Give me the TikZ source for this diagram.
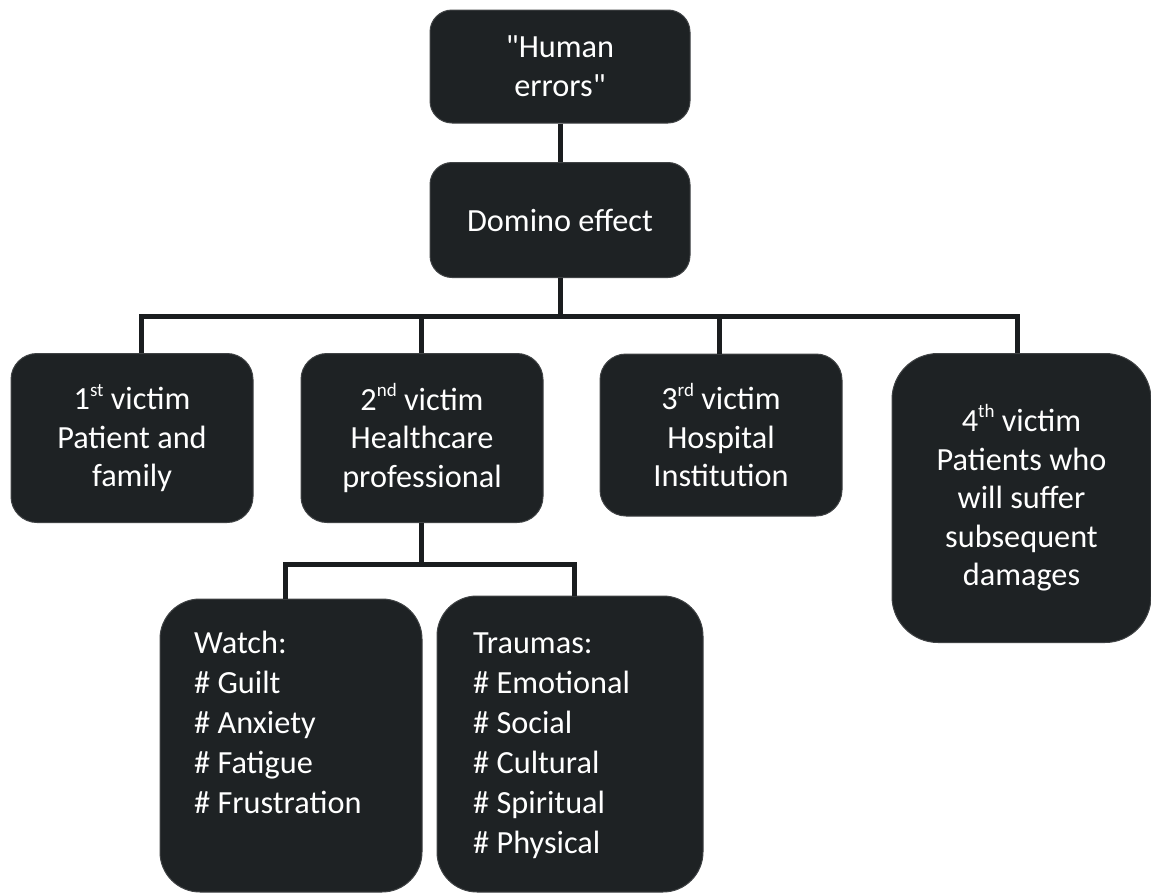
\documentclass[tikz,border=0pt]{standalone}
\usepackage{fontspec}
\setmainfont{Carlito}
\usetikzlibrary{calc}
\definecolor{boxc}{HTML}{1E2224}
\definecolor{linec}{HTML}{1A1D1F}
\newcommand{\supx}[1]{\raisebox{0.42em}{\fontsize{19}{19}\selectfont #1}}
\tikzset{
  box/.style={draw=boxc!85!white, line width=1pt, fill=boxc, text=white, align=center,
    font=\fontsize{32.3}{38.6}\selectfont, inner sep=0pt, rounded corners=#1},
  box/.default=22pt,
  listtext/.style={text=white, align=left, anchor=north west, inner sep=0pt,
    font=\fontsize{32.3}{40}\selectfont},
  conn/.style={draw=linec, line width=5pt, line join=miter}
}
\begin{document}
\begin{tikzpicture}[x=1pt,y=-1pt]
\useasboundingbox (0,0) rectangle (1151,894);
% top boxes
\node[box, minimum width=260pt, minimum height=113pt] (he) at (560,66.5) {\textquotedbl Human\\errors\textquotedbl};
\node[box, minimum width=260pt, minimum height=115pt] (dom) at (560,220) {Domino effect};
% victims
\node[box=26pt, minimum width=242pt, minimum height=169pt] (v1) at (132,438) {1\supx{st} victim\\Patient and\\family};
\node[box=26pt, minimum width=242pt, minimum height=169pt] (v2) at (422,438) {2\supx{nd} victim\\Healthcare\\professional};
\node[box=26pt, minimum width=242pt, minimum height=162pt] (v3) at (721,435) {3\supx{rd} victim\\Hospital\\Institution};
\node[box=46pt, minimum width=259pt, minimum height=289pt] (v4) at (1021.5,498) {4\supx{th} victim\\Patients who\\will suffer\\subsequent\\damages};
% lower boxes
\node[box=40pt, minimum width=262pt, minimum height=293pt] (watch) at (291,745.5) {};
\node[box=40pt, minimum width=266pt, minimum height=296pt] (traumas) at (570,744) {};
\node[listtext] (watcht) at (194,628) {\rule{0pt}{25pt}Watch:\\\# Guilt\\\# Anxiety\\\# Fatigue\\\# Frustration};
\node[listtext] (traumast) at (473,628) {\rule{0pt}{25pt}Traumas:\\\# Emotional\\\# Social\\\# Cultural\\\# Spiritual\\\# Physical};
% bus coordinates
\coordinate (b1) at (141,316);
\coordinate (b2) at (421,316);
\coordinate (b3) at (719.5,316);
\coordinate (b4) at (1017,316);
\coordinate (c1) at (285,564.5);
\coordinate (c2) at (574,564.5);
% connectors
\draw[conn] (he.south) -- (dom.north);
\draw[conn] (dom.south) -- (dom.south |- b1);
\draw[conn] (b1 |- v1.north) -- (b1) -- (b4) -- (b4 |- v4.north);
\draw[conn] (b2) -- (b2 |- v2.north);
\draw[conn] (b3) -- (b3 |- v3.north);
\draw[conn] (v2.south -| b2) -- (b2 |- c1);
\draw[conn] (c1 |- watch.north) -- (c1) -- (c2) -- (c2 |- traumas.north);
\end{tikzpicture}
\end{document}
